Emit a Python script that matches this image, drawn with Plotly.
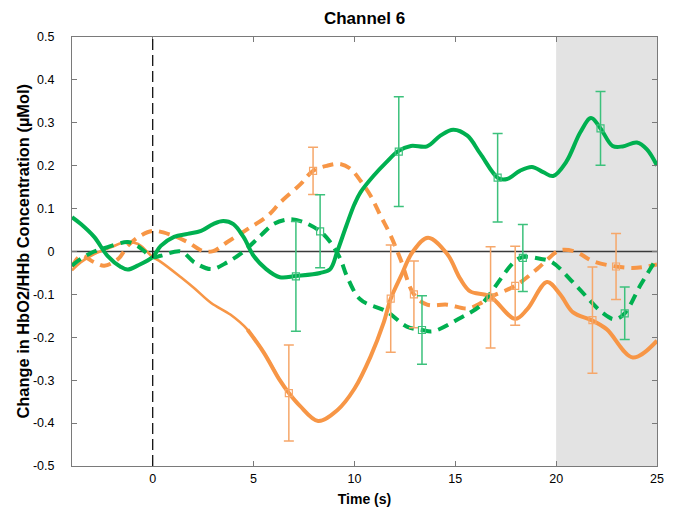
import plotly.graph_objects as go

# ---------------- data ----------------
green_solid_x = [-4, -3.56, -2.9, -2.24, -1.58, -1.24, -0.75, 0, 0.4, 1.06, 1.73, 2.4, 3.0, 3.5, 4.0, 4.5,
                 5.0, 5.6, 6.3, 7.1, 8.3, 8.8, 9.15, 9.6, 10.0, 10.3, 10.94, 11.6, 12.17, 12.8, 13.6, 14.26,
                 14.9, 15.6, 16.24, 17.13, 17.57, 18.2, 18.8, 19.36, 19.85, 20.5, 21.2, 21.73, 22.2, 22.8,
                 23.3, 24.0, 24.5, 25]
green_solid_y = [0.08, 0.064, 0.034, -0.01, -0.036, -0.042, -0.033, -0.013, 0.013, 0.034, 0.041, 0.048, 0.064,
                 0.071, 0.064, 0.034, -0.01, -0.04, -0.06, -0.057, -0.05, -0.041, 0.0, 0.06, 0.11, 0.138,
                 0.176, 0.209, 0.234, 0.246, 0.245, 0.27, 0.284, 0.27, 0.228, 0.171, 0.169, 0.188, 0.197,
                 0.185, 0.176, 0.209, 0.278, 0.311, 0.287, 0.246, 0.245, 0.254, 0.238, 0.2]

green_dash_x = [-4, -3.56, -2.9, -2.24, -1.24, -0.75, 0, 0.4, 1.4, 2.06, 2.9, 3.7, 4.5, 5.35, 6.0, 6.8, 7.5,
                8.3, 8.8, 9.3, 9.65, 10.3, 11.6, 12.6, 13.35, 13.9, 15.25, 16.2, 16.7, 17.9, 18.35, 19.2,
                19.8, 21.0, 22.3, 22.9, 23.4, 24.16, 25]
green_dash_y = [-0.033, -0.017, 0.0, 0.01, 0.022, 0.013, -0.013, -0.01, 0.0, -0.025, -0.041, -0.025, 0.0,
                0.037, 0.064, 0.075, 0.068, 0.047, 0.022, -0.017, -0.06, -0.112, -0.14, -0.175, -0.183,
                -0.186, -0.155, -0.128, -0.1, -0.025, -0.013, -0.017, -0.025, -0.08, -0.143, -0.158, -0.144,
                -0.08, -0.015]

orange_solid_x = [-4, -3.56, -2.9, -2.07, -1.33, -0.75, -0.26, 0, 0.4, 1.4, 2.05, 2.9, 3.85, 4.7, 5.5, 6.3,
                  6.75, 7.3, 8.2, 9.15, 10.0, 10.8, 11.45, 11.8, 12.3, 12.9, 13.65, 14.6, 15.25, 15.74, 16.7,
                  17.97, 18.56, 19.55, 20.2, 20.84, 21.75, 22.5, 23.8, 25]
orange_solid_y = [-0.044, -0.025, -0.006, 0.01, 0.022, 0.018, -0.001, -0.013, -0.024, -0.06, -0.085, -0.12,
                  -0.147, -0.182, -0.235, -0.3, -0.33, -0.36, -0.395, -0.37, -0.32, -0.245, -0.166, -0.11,
                  -0.058, 0.0, 0.032, -0.006, -0.064, -0.093, -0.104, -0.157, -0.135, -0.071, -0.1, -0.142,
                  -0.16, -0.181, -0.247, -0.208]

orange_dash_x = [-4, -3.56, -2.9, -2.4, -1.7, -1.24, -0.6, 0, 0.9, 1.73, 2.5, 3.0, 3.7, 4.7, 5.7, 6.34, 7.33,
                 7.95, 8.65, 9.3, 9.8, 10.3, 10.8, 11.3, 11.8, 12.3, 12.95, 13.6, 14.6, 15.6, 16.2, 16.7,
                 17.97, 19.05, 20.05, 20.35, 21.0, 21.8, 22.97, 24.0, 25]
orange_dash_y = [-0.036, -0.01, -0.025, -0.033, -0.017, 0.013, 0.037, 0.048, 0.039, 0.022, 0.001, 0.001,
                 0.022, 0.052, 0.083, 0.115, 0.157, 0.188, 0.2, 0.204, 0.193, 0.165, 0.13, 0.083, 0.037,
                 -0.02, -0.1, -0.124, -0.124, -0.133, -0.122, -0.107, -0.08, -0.041, 0.0, 0.004, -0.001,
                 -0.022, -0.035, -0.038, -0.03]

# error-bar markers
gs_err_x = [7.1, 12.2, 17.1, 22.2]
gs_err_y = [-0.058, 0.233, 0.172, 0.287]
gs_err_e = [0.128, 0.128, 0.103, 0.086]

gd_err_x = [8.3, 13.35, 18.35, 23.4]
gd_err_y = [0.047, -0.183, -0.015, -0.144]
gd_err_e = [0.085, 0.08, 0.078, 0.061]

os_err_x = [6.75, 11.8, 16.75, 21.8]
os_err_y = [-0.33, -0.11, -0.107, -0.16]
os_err_e = [0.112, 0.125, 0.118, 0.124]

od_err_x = [7.95, 12.95, 17.97, 22.97]
od_err_y = [0.188, -0.1, -0.08, -0.035]
od_err_e = [0.055, 0.078, 0.092, 0.077]

x_ticks = [0, 5, 10, 15, 20, 25]
y_ticks = [-0.5, -0.4, -0.3, -0.2, -0.1, 0, 0.1, 0.2, 0.3, 0.4, 0.5]
y_tick_text = ["-0.5", "-0.4", "-0.3", "-0.2", "-0.1", "0", "0.1", "0.2", "0.3", "0.4", "0.5"]

title_text = "Channel 6"
x_title = "Time (s)"
y_title = "Change in HbO2/HHb Concentration (µMol)"

# ---------------- styles ----------------
GREEN = "#00b050"
ORANGE = "#f79646"
GREEN_ERR = "#3cc17c"
ORANGE_ERR = "#f6a76a"
DASH = "11px,7px"
FONT = "Liberation Sans, Arial, sans-serif"

# the page body adds an 8px offset, so the figure is sized to fit the window
FIG_W, FIG_H = 669, 505
ML, MR, MT, MB = 64, 20, 29, 47

fig = go.Figure()

def err_trace(x, y, e, col):
    fig.add_trace(go.Scatter(
        x=x, y=y, mode="markers",
        marker=dict(symbol="square-open", size=7, color=col, line=dict(width=1.2, color=col)),
        error_y=dict(type="data", array=e, visible=True, color=col, thickness=1.5, width=5),
        hoverinfo="skip", showlegend=False))

def line_trace(x, y, col, dash, width=4):
    fig.add_trace(go.Scatter(
        x=x, y=y, mode="lines", line=dict(color=col, width=width, dash=dash, shape="spline", smoothing=1.0),
        showlegend=False))

# orange solid: thinner in its early part, full weight afterwards
line_trace(orange_solid_x[:16], orange_solid_y[:16], ORANGE, "solid", width=2.6)
line_trace(orange_solid_x[13:], orange_solid_y[13:], ORANGE, "solid", width=4)
line_trace(orange_dash_x, orange_dash_y, ORANGE, DASH)
line_trace(green_solid_x, green_solid_y, GREEN, "solid")
line_trace(green_dash_x, green_dash_y, GREEN, DASH)

err_trace(os_err_x, os_err_y, os_err_e, ORANGE_ERR)
err_trace(od_err_x, od_err_y, od_err_e, ORANGE_ERR)
err_trace(gs_err_x, gs_err_y, gs_err_e, GREEN_ERR)
err_trace(gd_err_x, gd_err_y, gd_err_e, GREEN_ERR)

# shaded window
fig.add_shape(type="rect", xref="x", yref="paper", x0=20, x1=25, y0=0, y1=1,
              fillcolor="#e3e3e3", line=dict(width=0), layer="below")
# onset marker
fig.add_shape(type="line", xref="x", yref="paper", x0=0, x1=0, y0=0, y1=1,
              line=dict(color="#111111", width=1.3, dash="11px,5px"), layer="above")
# zero line
fig.add_shape(type="line", xref="paper", yref="y", x0=0, x1=1, y0=0, y1=0,
              line=dict(color="#3a3a3a", width=1.5), layer="below")

# y-axis title as a rotated annotation
plot_w = FIG_W - ML - MR
fig.add_annotation(text=f"<b>{y_title}</b>", textangle=-90, xref="paper", yref="paper",
                   x=(14 - ML) / plot_w, y=0.5, xanchor="center", yanchor="middle", showarrow=False,
                   font=dict(family=FONT, size=16.4, color="#000"))

axis_common = dict(showline=True, linecolor="#7a7a7a", linewidth=1, mirror="ticks", ticks="inside",
                   ticklen=5, tickcolor="#7a7a7a", showgrid=False, zeroline=False, automargin=False,
                   tickfont=dict(family=FONT, size=12.5, color="#000"))

fig.update_layout(
    width=FIG_W, height=FIG_H,
    margin=dict(l=ML, r=MR, t=MT, b=MB, autoexpand=False),
    paper_bgcolor="white", plot_bgcolor="white",
    title=dict(text=f"<b>{title_text}</b>", x=356.5 / FIG_W, xanchor="center",
               y=1 - 10 / FIG_H, yanchor="middle", font=dict(family=FONT, size=17, color="#000")),
    xaxis=dict(range=[-4, 25], tickvals=x_ticks, ticktext=[str(v) for v in x_ticks],
               title=dict(text=f"<b>{x_title}</b>", font=dict(family=FONT, size=14, color="#000"), standoff=9),
               ticklabelstandoff=1, **axis_common),
    yaxis=dict(range=[-0.5, 0.5], tickvals=y_ticks, ticktext=y_tick_text,
               ticklabelstandoff=14, **axis_common),
)

fig.write_html("out.html")
